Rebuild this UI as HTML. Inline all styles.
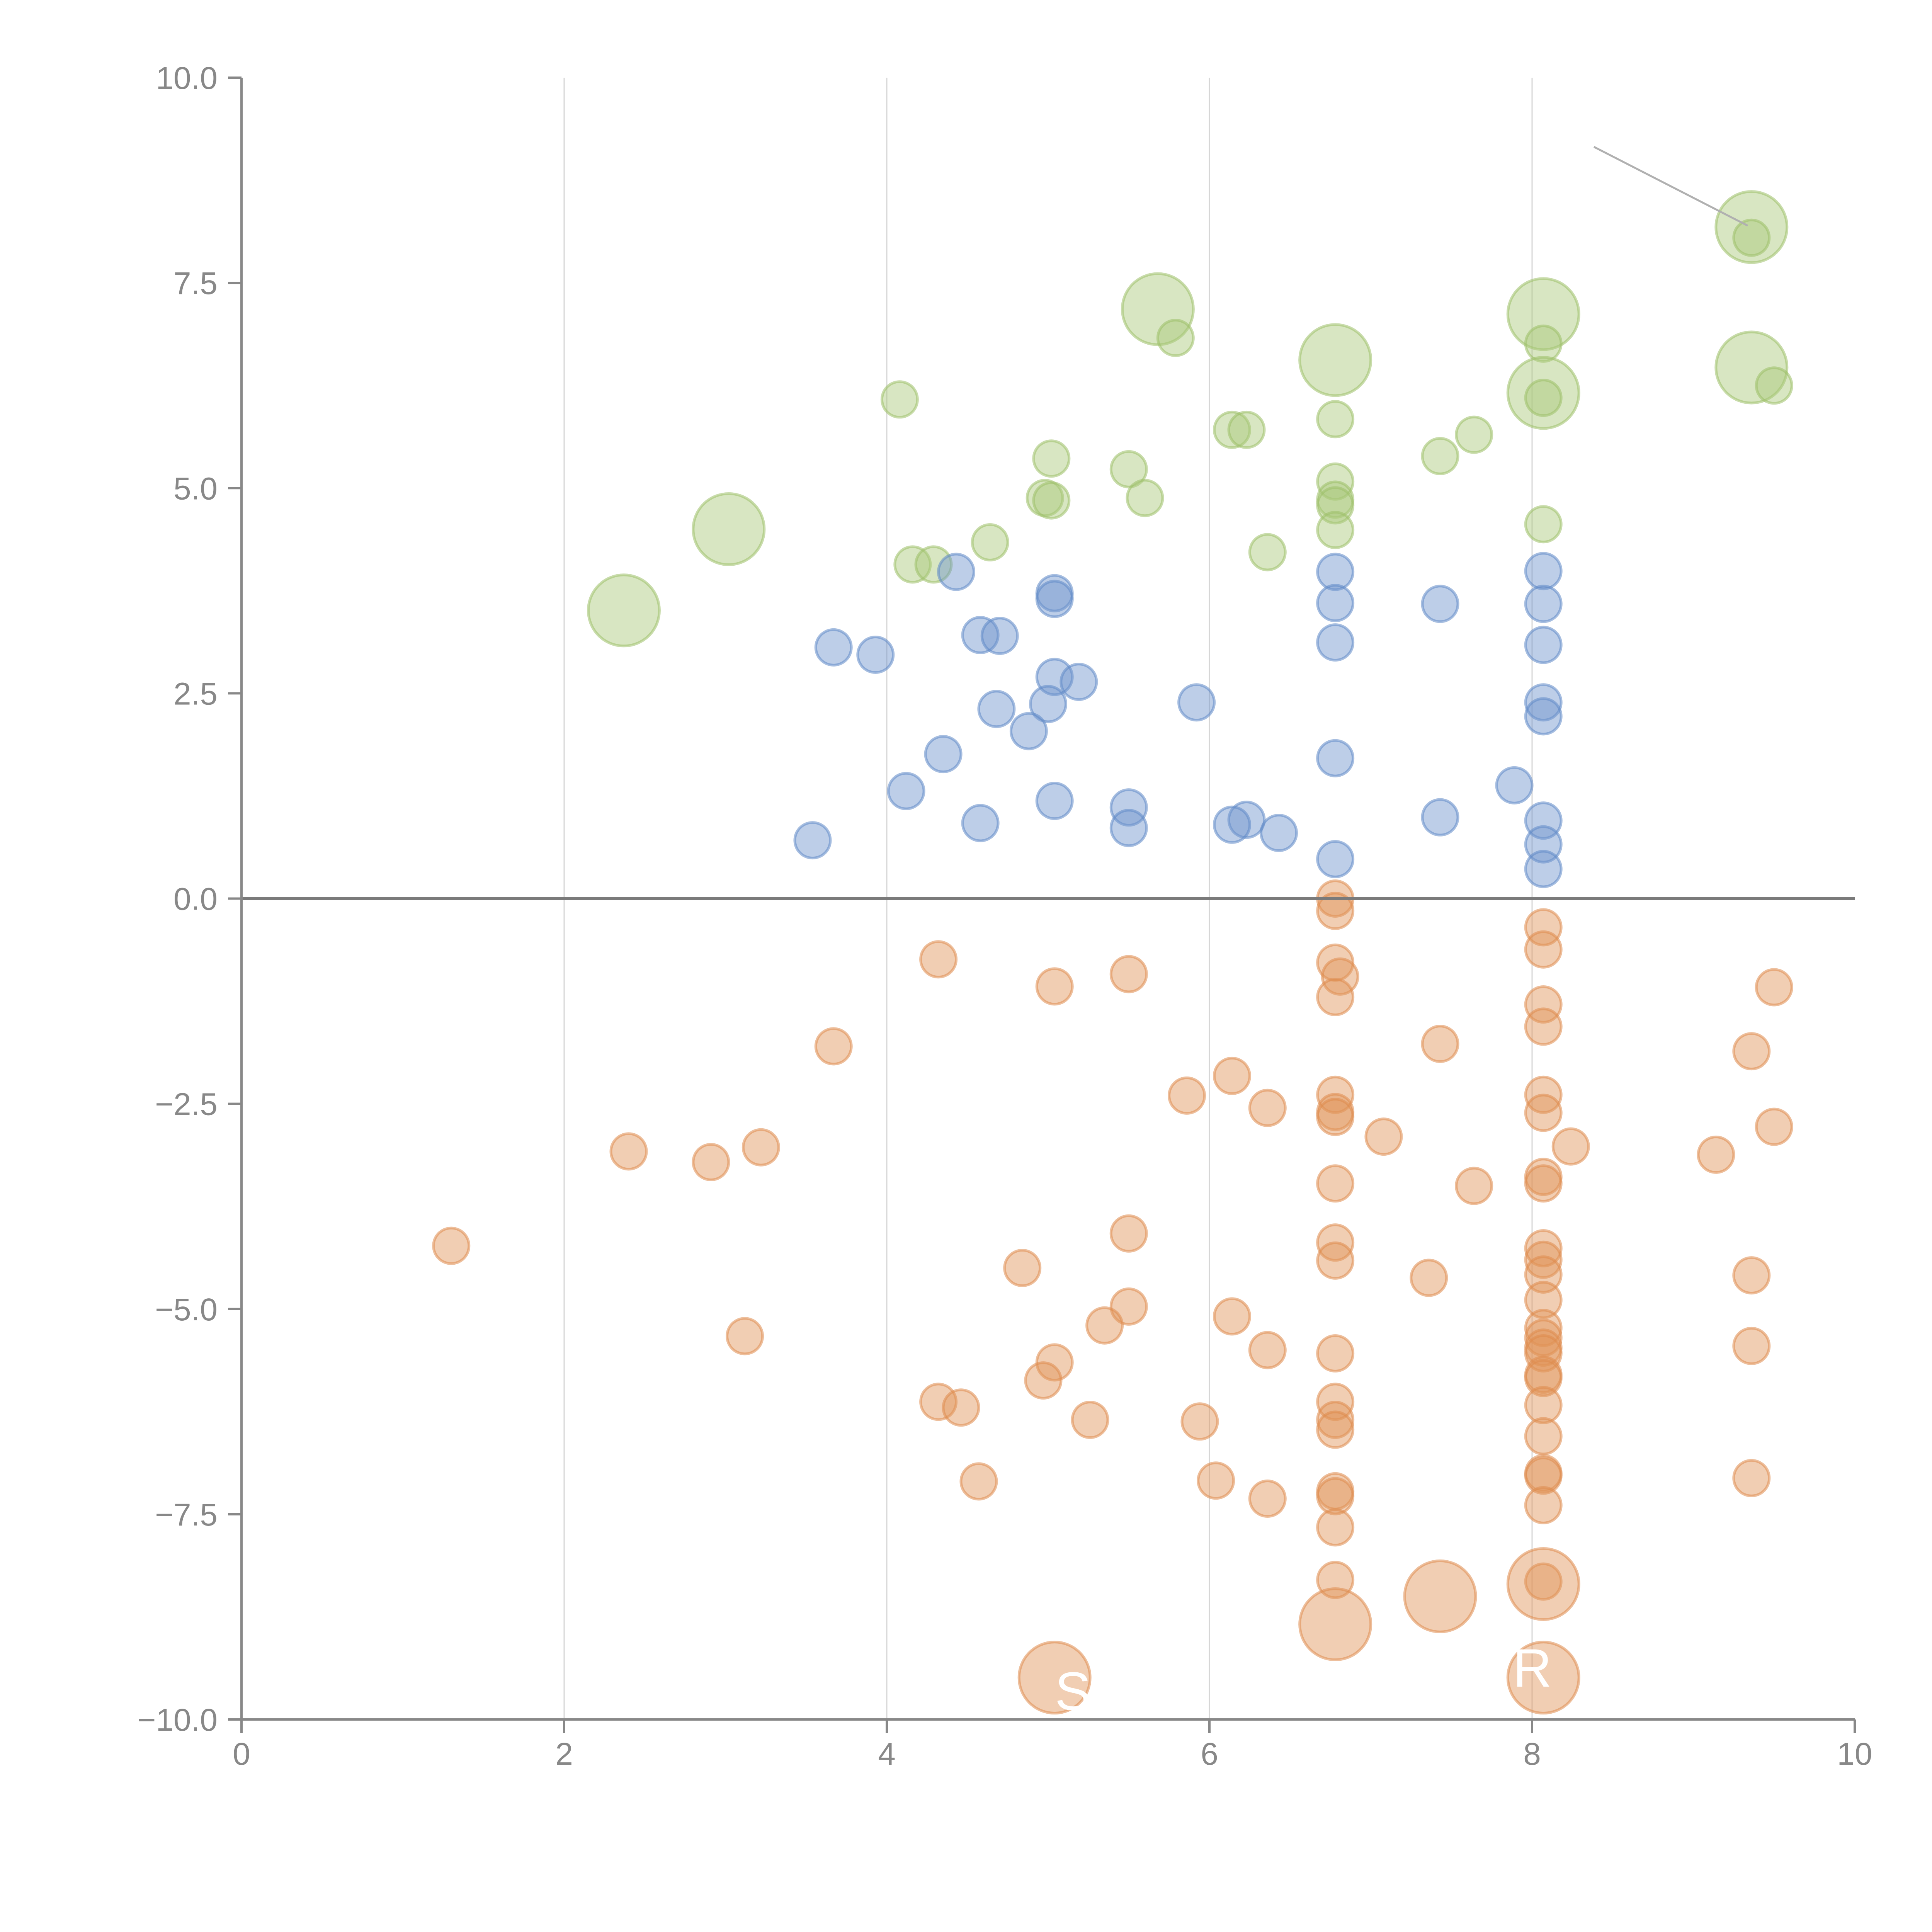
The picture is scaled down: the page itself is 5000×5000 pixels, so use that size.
<!DOCTYPE html>
<html><head><meta charset="utf-8"><style>
html,body{margin:0;padding:0;background:#fff}
svg{display:block}
text{font-family:"Liberation Sans",sans-serif}
</style></head><body>
<svg id="chart" width="5000" height="5000" viewBox="0 0 5000 5000" xmlns="http://www.w3.org/2000/svg">
<rect width="5000" height="5000" fill="#fff"/>
<g id="grid"></g>
<g id="marks"></g>
<g id="axes"></g>
</svg>
<script>
const xTicks=[0,2,4,6,8,10];
const yTicks=[-10,-7.5,-5,-2.5,0,2.5,5,7.5,10];
const yTickLabels=["−10.0","−7.5","−5.0","−2.5","0.0","2.5","5.0","7.5","10.0"];
const greenX=[9.36,9.36,5.68,5.79,8.07,8.07,6.78,9.36,8.07,8.07,9.50,4.08,6.78,6.14,6.23,7.64,5.02,7.43,5.50,6.78,4.98,5.02,5.60,6.78,6.78,6.78,8.07,3.02,4.64,6.36,4.16,4.29,2.37];
const greenY=[8.18,8.05,7.18,6.83,7.12,6.76,6.56,6.47,6.16,6.10,6.25,6.08,5.84,5.71,5.71,5.65,5.36,5.39,5.23,5.08,4.88,4.85,4.88,4.86,4.79,4.49,4.56,4.50,4.34,4.22,4.07,4.07,3.51];
const greenS=[4,1,4,1,4,1,4,4,4,1,1,1,1,1,1,1,1,1,1,1,1,1,1,1,1,1,1,4,1,1,1,1,4];
const blueX=[4.43,6.78,8.07,5.04,5.04,6.78,7.43,8.07,4.58,4.70,3.67,3.93,6.78,8.07,5.04,5.19,5.00,4.68,5.92,8.07,8.07,4.88,4.35,6.78,7.89,4.12,5.04,5.50,7.43,6.23,6.14,4.58,5.50,8.07,6.43,3.54,8.07,6.78,8.07];
const blueY=[3.98,3.98,3.99,3.72,3.65,3.60,3.59,3.59,3.21,3.20,3.06,2.97,3.12,3.09,2.70,2.64,2.37,2.31,2.39,2.39,2.22,2.04,1.76,1.71,1.38,1.31,1.19,1.11,0.99,0.96,0.90,0.92,0.86,0.95,0.80,0.71,0.66,0.48,0.36];
const orangeX=[6.78,6.78,8.07,8.07,4.32,6.78,6.81,5.50,5.04,9.50,6.78,8.07,8.07,3.67,7.43,9.36,6.14,5.86,6.78,8.07,6.36,6.78,6.78,8.07,9.50,7.08,8.24,3.22,2.40,9.14,2.91,8.07,8.07,6.78,7.64,5.50,1.30,6.78,8.07,8.07,6.78,4.84,8.07,9.36,7.36,8.07,5.50,6.14,8.07,8.07,3.12,5.35,8.07,8.07,6.78,9.36,6.36,5.04,8.07,8.07,4.97,4.32,6.78,4.46,8.07,6.78,5.26,5.94,6.78,8.07,8.07,8.07,9.36,6.04,4.57,6.78,6.78,6.36,8.07,6.78,6.78,8.07,8.07,7.43,6.78,5.04,8.07];
const orangeY=[0.00,-0.15,-0.35,-0.62,-0.74,-0.78,-0.95,-0.92,-1.07,-1.08,-1.20,-1.29,-1.56,-1.80,-1.77,-1.86,-2.16,-2.40,-2.39,-2.39,-2.55,-2.60,-2.66,-2.61,-2.78,-2.90,-3.02,-3.03,-3.08,-3.12,-3.21,-3.39,-3.47,-3.47,-3.50,-4.08,-4.23,-4.19,-4.26,-4.40,-4.41,-4.50,-4.58,-4.59,-4.62,-4.89,-4.97,-5.09,-5.23,-5.35,-5.33,-5.20,-5.47,-5.54,-5.54,-5.45,-5.50,-5.65,-5.80,-5.84,-5.87,-6.13,-6.13,-6.20,-6.17,-6.35,-6.35,-6.37,-6.47,-6.55,-7.00,-7.03,-7.06,-7.09,-7.10,-7.22,-7.28,-7.31,-7.39,-7.66,-8.30,-8.32,-8.35,-8.50,-8.84,-9.49,-9.49];
const orangeS=[1,1,1,1,1,1,1,1,1,1,1,1,1,1,1,1,1,1,1,1,1,1,1,1,1,1,1,1,1,1,1,1,1,1,1,1,1,1,1,1,1,1,1,1,1,1,1,1,1,1,1,1,1,1,1,1,1,1,1,1,1,1,1,1,1,1,1,1,1,1,1,1,1,1,1,1,1,1,1,1,1,1,4,4,4,4,4];

const NS="http://www.w3.org/2000/svg";
function X(v){return 625+v*417.5;}
function Y(v){return 2325.5-v*212.45;}
function R(s){return 46*Math.sqrt(s);}
function mk(tag,attrs,parent){const e=document.createElementNS(NS,tag);for(const k in attrs)e.setAttribute(k,attrs[k]);parent.appendChild(e);return e;}
const grid=document.getElementById('grid'),marks=document.getElementById('marks'),axes=document.getElementById('axes');
xTicks.forEach(t=>{if(t>0&&t<10){const l=mk('line',{x1:X(t),x2:X(t),y1:Y(10),y2:Y(-10),stroke:'#d6d6d6','stroke-width':3},grid);

}});
function series(xs,ys,ss,fill,stroke,name){
  for(let i=0;i<xs.length;i++){
    const c=mk('circle',{cx:X(xs[i]),cy:Y(ys[i]),r:R(ss?ss[i]:1),fill:fill,'fill-opacity':0.45,stroke:stroke,'stroke-opacity':0.55,'stroke-width':7},marks);
    
    
  }
}
series(greenX,greenY,greenS,'#a9c878','#9cbf68','bubble-green');
series(blueX,blueY,null,'#6d93cc','#5f88c6','bubble-blue');
series(orangeX,orangeY,orangeS,'#e09257','#de8b4c','bubble-orange');
// annotation leader line
const ann=mk('line',{x1:4125,y1:380,x2:4523,y2:584,stroke:'#b0b0b0','stroke-width':5},axes);


// zero line
const z=mk('line',{x1:X(0),x2:X(10),y1:Y(0),y2:Y(0),stroke:'#7a7a7a','stroke-width':7},axes);


// y axis
const ya=mk('line',{x1:X(0),x2:X(0),y1:Y(10),y2:Y(-10)+35,stroke:'#888','stroke-width':6},axes);


const xa=mk('line',{x1:X(0)-35,x2:X(10),y1:Y(-10),y2:Y(-10),stroke:'#888','stroke-width':6},axes);


yTicks.forEach((t,i)=>{
  const tk=mk('line',{x1:X(0)-35,x2:X(0),y1:Y(t),y2:Y(t),stroke:'#888','stroke-width':6},axes);
  
  
  const tx=mk('text',{x:X(0)-62,y:Y(t)+29,'text-anchor':'end','font-size':82,fill:'#888'},axes);
  tx.textContent=yTickLabels[i];
  
  
});
xTicks.forEach(t=>{
  const tk=mk('line',{x1:X(t),x2:X(t),y1:Y(-10),y2:Y(-10)+35,stroke:'#888','stroke-width':6},axes);
  
  
  const tx=mk('text',{x:X(t),y:4567,'text-anchor':'middle','font-size':82,fill:'#888'},axes);
  tx.textContent=String(t);
  
  
});
// faint white overlay title
const wt=mk('text',{x:2730,y:4425,'font-size':140,fill:'#fff','letter-spacing':40},axes);
wt.textContent="S";


const wt2=mk('text',{x:3915,y:4365,'font-size':140,fill:'#fff'},axes);
wt2.textContent="R";


</script>
</body></html>
